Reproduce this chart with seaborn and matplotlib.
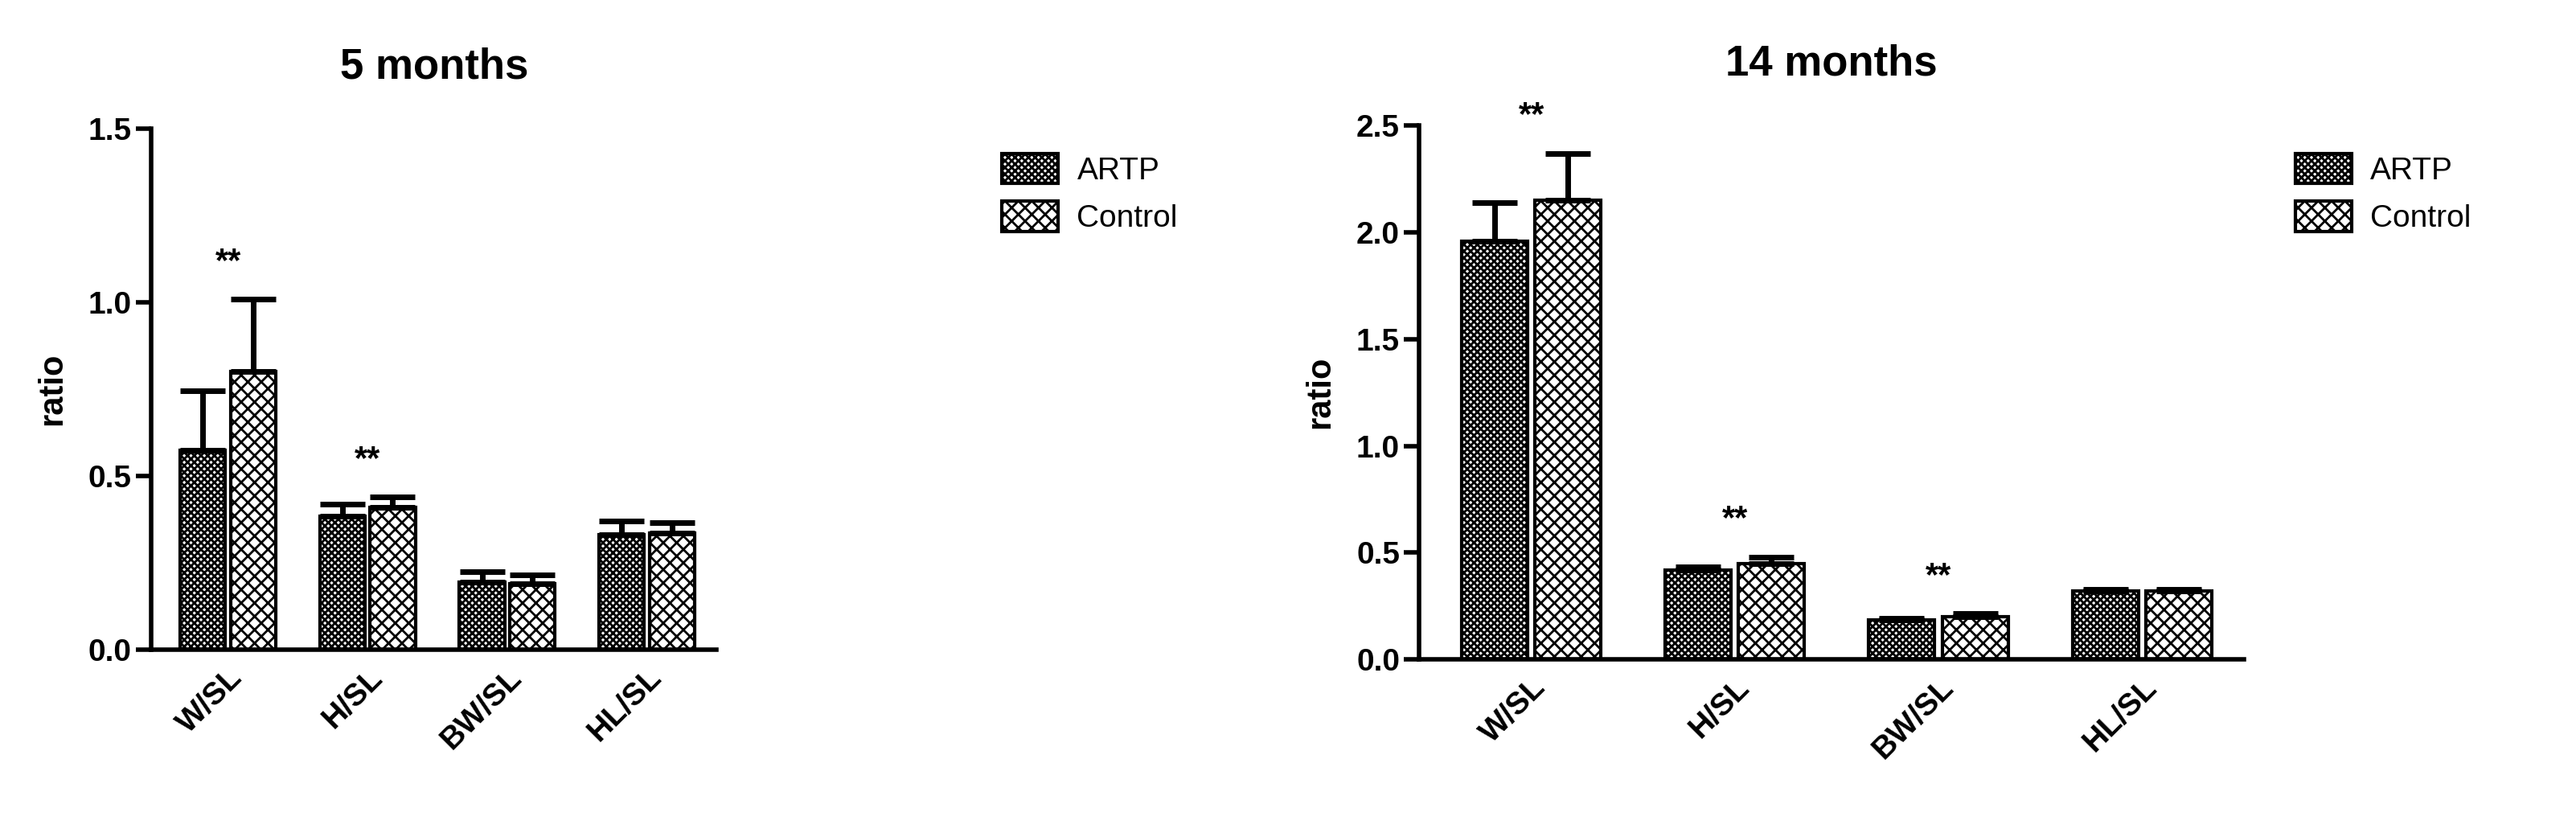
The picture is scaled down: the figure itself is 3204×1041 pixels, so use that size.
import matplotlib
matplotlib.use("Agg")
import matplotlib.pyplot as plt
import seaborn as sns
import pandas as pd
from matplotlib.patches import Patch

categories = ["W/SL", "H/SL", "BW/SL", "HL/SL"]
groups = ["ARTP", "Control"]
m5_artp = [0.575, 0.385, 0.195, 0.33]
m5_ctrl = [0.80, 0.41, 0.19, 0.335]
m5_artp_err = [0.17, 0.035, 0.03, 0.04]
m5_ctrl_err = [0.21, 0.03, 0.025, 0.03]
m14_artp = [1.96, 0.42, 0.185, 0.32]
m14_ctrl = [2.15, 0.45, 0.20, 0.32]
m14_artp_err = [0.18, 0.015, 0.01, 0.01]
m14_ctrl_err = [0.22, 0.03, 0.015, 0.01]
m5_stars = ["W/SL", "H/SL"]
m14_stars = ["W/SL", "H/SL", "BW/SL"]

sns.set_style("ticks")
plt.rcParams["font.family"] = ["Liberation Sans", "DejaVu Sans"]
plt.rcParams["hatch.linewidth"] = 2.0
for k in ["text.color", "axes.labelcolor", "xtick.color", "ytick.color", "axes.edgecolor"]:
    plt.rcParams[k] = "black"
hatches = {"ARTP": "xxxx", "Control": "xx"}

fig = plt.figure(figsize=(32.04, 10.41), dpi=100)
ax1 = fig.add_axes([0.0587, 0.224, 0.2195, 0.622])
ax2 = fig.add_axes([0.551, 0.212, 0.320, 0.638])

def draw(ax, a, c, ae, ce, stars, title, ylim, step, legx):
    df = pd.DataFrame({"cat": categories * 2, "grp": ["ARTP"] * 4 + ["Control"] * 4,
                       "val": a + c, "err": ae + ce})
    sns.barplot(data=df, x="cat", y="val", hue="grp", hue_order=groups, ax=ax,
                palette=["white", "white"], edgecolor="black", linewidth=3,
                width=0.72, gap=0.1, errorbar=None, legend=False)
    for cont, g in zip(ax.containers, groups):
        sub = df[df.grp == g]
        for p, v, e in zip(cont.patches, sub.val, sub.err):
            p.set_hatch(hatches[g])
            x = p.get_x() + p.get_width() / 2
            ax.errorbar([x], [v], yerr=[[0], [e]], fmt="none", ecolor="black",
                        elinewidth=5, capsize=20, capthick=5)
    for s in stars:
        i = categories.index(s)
        top = max(df.val[i] + df.err[i], df.val[i + 4] + df.err[i + 4])
        ax.text(i, top + ylim * 0.04, "**", ha="center", va="bottom",
                fontsize=30, fontweight="bold")
    ax.set_xlim(-0.55, 3.5)
    ax.set_ylim(0, ylim)
    n = int(round(ylim / step)) + 1
    ax.set_yticks([k * step for k in range(n)])
    ax.set_yticklabels([f"{k*step:.1f}" for k in range(n)], fontsize=28, fontweight="bold")
    ax.set_xticks(range(4))
    ax.set_xticklabels(categories, rotation=45, ha="right", rotation_mode="anchor",
                       fontsize=28, fontweight="bold")
    ax.set_xlabel("")
    ax.set_ylabel("ratio", fontsize=30, fontweight="bold", labelpad=18)
    ax.set_title(title, fontsize=38, fontweight="bold", pad=45)
    for sp in ["top", "right"]:
        ax.spines[sp].set_visible(False)
    for sp in ["left", "bottom"]:
        ax.spines[sp].set_linewidth(4)
    ax.tick_params(axis="y", width=4, length=14)
    ax.tick_params(axis="x", width=0, length=0, pad=12)
    handles = [Patch(facecolor="white", edgecolor="black", linewidth=3, hatch=hatches[g]) for g in groups]
    fig.legend(handles, groups, loc="upper left", bbox_to_anchor=(legx, 0.85),
               frameon=False, fontsize=28, handlelength=1.8, handleheight=1.1,
               labelspacing=0.5, handletextpad=0.6)

draw(ax1, m5_artp, m5_ctrl, m5_artp_err, m5_ctrl_err, m5_stars, "5 months", 1.5, 0.5, 0.378)
draw(ax2, m14_artp, m14_ctrl, m14_artp_err, m14_ctrl_err, m14_stars, "14 months", 2.5, 0.5, 0.880)

fig.savefig("out.png", dpi=100)
